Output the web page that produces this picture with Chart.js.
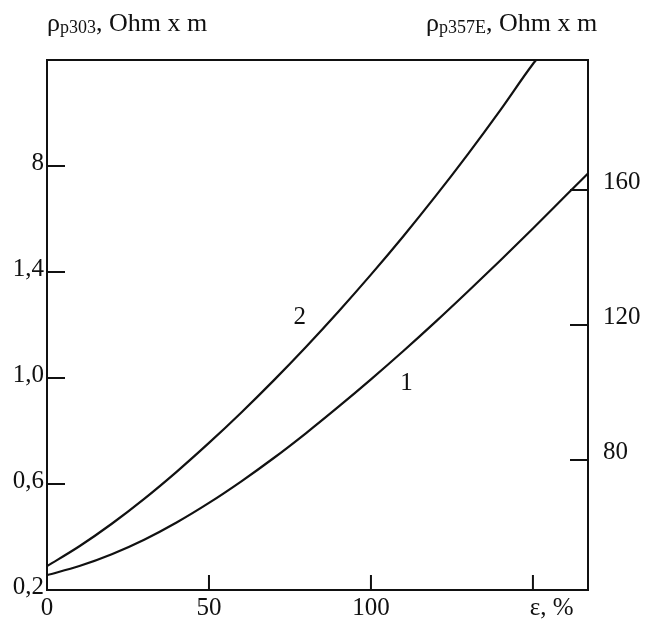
<!DOCTYPE html>
<html>
<head>
<meta charset="utf-8">
<script src="https://cdn.jsdelivr.net/npm/chart.js@4.4.1/dist/chart.umd.min.js"></script>
<style>
  body { margin: 0; background: #fff; }
  #wrap { position: relative; width: 648px; height: 628px; }
  .ttl { position: absolute; font-family: "Liberation Serif", serif; font-size: 26px; line-height: 26px; color: #111; white-space: nowrap; }
  .ttl span { font-size: 18px; vertical-align: -2px; }
</style>
</head>
<body>
<div id="wrap">
  <canvas id="chart"></canvas>
  <div class="ttl" style="left:47px; top:10px">ρ<span>p303</span>, Ohm x m</div>
  <div class="ttl" style="left:426px; top:10px">ρ<span>p357E</span>, Ohm x m</div>
</div>
<script>
// strain, %
let eps2 = [0, 10, 20, 30, 40, 50, 60, 70, 80, 90, 100, 110, 120, 130, 140, 150, 151];
// curve 2, left axis (rho p303)
let rho2 = [0.29, 0.365, 0.45, 0.544, 0.646, 0.755, 0.87, 0.991, 1.118, 1.251, 1.39, 1.535, 1.687, 1.846, 2.012, 2.185, 2.2];

let eps1 = [0, 10, 20, 30, 40, 50, 60, 70, 80, 90, 100, 110, 120, 130, 140, 150, 160, 167];
// curve 1, right axis (rho p357E)
let rho1 = [45.9, 48.6, 52.1, 56.4, 61.5, 67.3, 73.7, 80.6, 88.0, 95.8, 103.9, 112.3, 121.0, 130.0, 139.2, 148.6, 158.2, 164.9];

let xTicks = [0, 50, 100, 150];
let xLabels = ["0", "50", "100", "\u2002\u2002\u2002ε, %"];
let yLeftTicks = [0.2, 0.6, 1.0, 1.4, 1.8];
let yLeftLabels = ["0,2", "0,6", "1,0", "1,4", "8"];
let yRightTicks = [80, 120, 160];
let yRightLabels = ["80", "120", "160"];

// curve numbers: [text, eps, value, axis]
let curveNames = [["2", 78, 1.23, "y"], ["1", 111, 102.8, "y1"]];

const ink = "#111";
const tickFont = { family: "Liberation Serif", size: 25 };

function pts(xs, ys) {
    return xs.map((x, i) => ({ x: x, y: ys[i] }));
}

function fixTicks(list) {
    return function(scale) {
        scale.ticks = list.map(v => ({ value: v }));
    };
}

function labelOf(list, labels) {
    return function(value) {
        let i = list.findIndex(v => Math.abs(v - value) < 1e-6);
        return i < 0 ? "" : labels[i];
    };
}

// ticks pointing into the plot, plus the curve numbers
const innerTicks = {
    id: "innerTicks",
    afterDatasetsDraw(chart) {
        const ctx = chart.ctx;
        const s = chart.scales;
        const a = chart.chartArea;
        ctx.save();
        ctx.strokeStyle = ink;
        ctx.lineWidth = 2;
        ctx.beginPath();
        yLeftTicks.slice(1).forEach(v => {
            let y = s.y.getPixelForValue(v);
            ctx.moveTo(a.left, y);
            ctx.lineTo(a.left + 18, y);
        });
        yRightTicks.forEach(v => {
            let y = s.y1.getPixelForValue(v);
            ctx.moveTo(a.right, y);
            ctx.lineTo(a.right - 18, y);
        });
        xTicks.slice(1).forEach(v => {
            let x = s.x.getPixelForValue(v);
            ctx.moveTo(x, a.bottom);
            ctx.lineTo(x, a.bottom - 15);
        });
        ctx.stroke();

        ctx.fillStyle = ink;
        ctx.font = "25px 'Liberation Serif'";
        ctx.textAlign = "center";
        ctx.textBaseline = "middle";
        curveNames.forEach(c => {
            ctx.fillText(c[0], s.x.getPixelForValue(c[1]), s[c[3]].getPixelForValue(c[2]));
        });
        ctx.restore();
    }
};

let chart = new Chart(document.getElementById("chart").getContext("2d"), {
    type: "line",
    data: {
        datasets: [
            {
                label: "1",
                data: pts(eps1, rho1),
                yAxisID: "y1",
                borderColor: ink,
                borderWidth: 2.2,
                pointRadius: 0,
                cubicInterpolationMode: "monotone"
            },
            {
                label: "2",
                data: pts(eps2, rho2),
                yAxisID: "y",
                borderColor: ink,
                borderWidth: 2.2,
                pointRadius: 0,
                cubicInterpolationMode: "monotone"
            }
        ]
    },
    options: {
        responsive: true,
        maintainAspectRatio: false,
        animation: false,
        layout: { padding: 0 },
        plugins: {
            legend: { display: false },
            tooltip: { enabled: false }
        },
        scales: {
            x: {
                type: "linear",
                position: "bottom",
                min: 0,
                max: 167,
                afterBuildTicks: fixTicks(xTicks),
                afterFit: s => { s.height = 38; },
                grid: { display: false, drawTicks: false },
                border: { display: true, color: ink, width: 2 },
                ticks: {
                    color: ink,
                    font: tickFont,
                    padding: 3,
                    maxRotation: 0,
                    autoSkip: false,
                    callback: labelOf(xTicks, xLabels)
                }
            },
            x2: {
                type: "linear",
                position: "top",
                min: 0,
                max: 167,
                afterFit: s => { s.height = 60; },
                grid: { display: false, drawTicks: false },
                border: { display: true, color: ink, width: 2 },
                ticks: { display: false }
            },
            y: {
                type: "linear",
                position: "left",
                min: 0.2,
                max: 2.2,
                afterBuildTicks: fixTicks(yLeftTicks),
                afterFit: s => { s.width = 47; },
                grid: { display: false, drawTicks: false },
                border: { display: true, color: ink, width: 2 },
                ticks: {
                    color: ink,
                    font: tickFont,
                    padding: 3,
                    labelOffset: -3,
                    autoSkip: false,
                    callback: labelOf(yLeftTicks, yLeftLabels)
                }
            },
            y1: {
                type: "linear",
                position: "right",
                min: 41.5,
                max: 198.5,
                afterBuildTicks: fixTicks(yRightTicks),
                afterFit: s => { s.width = 60; },
                grid: { display: false, drawTicks: false },
                border: { display: true, color: ink, width: 2 },
                ticks: {
                    color: ink,
                    font: tickFont,
                    padding: 15,
                    labelOffset: -8,
                    autoSkip: false,
                    callback: labelOf(yRightTicks, yRightLabels)
                }
            }
        }
    },
    plugins: [innerTicks]
});
</script>
</body>
</html>
